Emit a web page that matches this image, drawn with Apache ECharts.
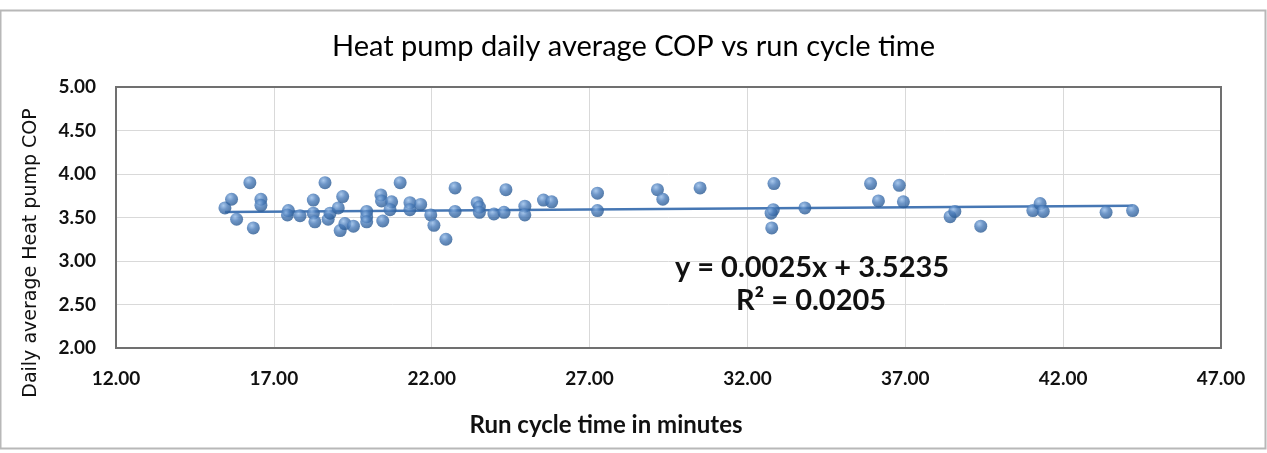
<!DOCTYPE html>
<html>
<head>
<meta charset="utf-8">
<script src="https://cdn.jsdelivr.net/npm/echarts@6/dist/echarts.min.js"></script>
<style>
  html, body { margin: 0; padding: 0; background: #fff; }
  #chart { width: 1267px; height: 453px; }
</style>
</head>
<body>
<div id="chart"></div>
<script>
// run cycle time (minutes) and daily average COP
var runTime = [
  15.45, 15.66, 15.82, 16.24, 16.35, 16.59, 16.59, 17.46, 17.43, 17.83,
  18.25, 18.25, 18.30, 18.62, 18.72, 18.78, 19.04, 19.18, 19.10, 19.25,
  19.52, 19.94, 19.94, 19.94, 20.39, 20.41, 20.45, 20.73, 20.68, 21.00,
  21.31, 21.31, 21.65, 21.97, 22.07, 22.45, 22.74, 22.74, 23.44, 23.51,
  23.51, 23.97, 24.29, 24.35, 24.95, 24.95, 25.54, 25.80, 27.25, 27.25,
  29.15, 29.32, 30.50, 32.84, 32.82, 32.75, 32.77, 33.82, 35.90, 36.15,
  36.81, 36.94, 38.42, 38.57, 39.39, 41.04, 41.27, 41.37, 43.36, 44.20
];
var dailyCop = [
  3.61, 3.71, 3.48, 3.90, 3.38, 3.71, 3.64, 3.58, 3.53, 3.52,
  3.70, 3.55, 3.45, 3.90, 3.48, 3.55, 3.61, 3.74, 3.35, 3.43,
  3.40, 3.57, 3.51, 3.45, 3.76, 3.69, 3.46, 3.68, 3.59, 3.90,
  3.67, 3.59, 3.65, 3.53, 3.41, 3.25, 3.84, 3.57, 3.67, 3.62,
  3.56, 3.54, 3.56, 3.82, 3.63, 3.53, 3.70, 3.68, 3.78, 3.58,
  3.82, 3.71, 3.84, 3.89, 3.59, 3.55, 3.38, 3.61, 3.89, 3.69,
  3.87, 3.68, 3.51, 3.57, 3.40, 3.58, 3.66, 3.57, 3.56, 3.58
];
// linear fit shown on the chart
var slope = 0.0025;
var intercept = 3.5235;
var rSquared = '0.0205';

var xTicks = [12, 17, 22, 27, 32, 37, 42, 47];
var yTicks = [2, 2.5, 3, 3.5, 4, 4.5, 5];

var points = runTime.map(function(v, i) { return [v, dailyCop[i]]; });
var xMin = Math.min.apply(null, runTime);
var xMax = Math.max.apply(null, runTime);
var trend = [[xMin, slope * xMin + intercept], [xMax, slope * xMax + intercept]];

var font = 'Lato, "Open Sans", sans-serif';
var chart = echarts.init(document.getElementById('chart'));

chart.setOption({
  animation: false,
  backgroundColor: '#fff',
  title: {
    text: 'Heat pump daily average COP vs run cycle time',
    left: 'center',
    top: 27,
    textStyle: { fontFamily: font, fontSize: 29, fontWeight: 'normal', color: '#000' }
  },
  grid: { left: 116, right: 46, top: 87, bottom: 105 },
  xAxis: {
    type: 'value',
    min: xTicks[0],
    max: xTicks[xTicks.length - 1],
    interval: 5,
    axisLine: { show: false },
    axisTick: { show: false },
    splitLine: { show: true, lineStyle: { color: '#d9d9d9', width: 1 } },
    axisLabel: {
      margin: 21,
      fontFamily: font, fontSize: 19, fontWeight: 'bold', color: '#111',
      formatter: function(v) { return v.toFixed(2); }
    }
  },
  yAxis: {
    type: 'value',
    min: yTicks[0],
    max: yTicks[yTicks.length - 1],
    interval: 0.5,
    axisLine: { show: false },
    axisTick: { show: false },
    splitLine: { show: true, lineStyle: { color: '#d9d9d9', width: 1 } },
    axisLabel: {
      margin: 20,
      fontFamily: font, fontSize: 19, fontWeight: 'bold', color: '#111',
      formatter: function(v) { return v.toFixed(2); }
    }
  },
  graphic: [
    {
      type: 'rect',
      shape: { x: 116, y: 87, width: 1105, height: 261 },
      style: { fill: 'none', stroke: '#707070', lineWidth: 2 },
      z: 50, silent: true
    },
    {
      type: 'rect',
      shape: { x: 0.5, y: 10.5, width: 1265, height: 438 },
      style: { fill: 'none', stroke: '#b8b8b8', lineWidth: 2 },
      z: 50, silent: true
    },
    {
      // y axis title is spaced out and runs below the plot bottom in the original
      type: 'text',
      x: 31, y: 253,
      rotation: Math.PI / 2,
      style: {
        text: 'Daily average Heat pump COP',
        fontFamily: '"DejaVu Sans", sans-serif', fontSize: 19, fill: '#111',
        align: 'center', verticalAlign: 'middle'
      },
      z: 60
    },
    {
      // x axis title sits left of the plot centre in the original
      type: 'text',
      x: 606, y: 425,
      style: {
        text: 'Run cycle time in minutes',
        fontFamily: font, fontSize: 24, fontWeight: 'bold', fill: '#111',
        align: 'center', verticalAlign: 'middle'
      },
      z: 60
    },
    {
      type: 'text',
      x: 812, y: 268,
      style: {
        text: 'y = ' + slope.toFixed(4) + 'x + ' + intercept.toFixed(4),
        fontFamily: font, fontSize: 29, fontWeight: 'bold', fill: '#111',
        align: 'center', verticalAlign: 'middle'
      },
      z: 60
    },
    {
      type: 'text',
      x: 811, y: 301,
      style: {
        text: 'R² = ' + rSquared,
        fontFamily: font, fontSize: 29, fontWeight: 'bold', fill: '#111',
        align: 'center', verticalAlign: 'middle'
      },
      z: 60
    }
  ],
  series: [
    {
      type: 'line',
      data: trend,
      symbol: 'none',
      lineStyle: { color: '#4677b4', width: 2.5 },
      z: 2
    },
    {
      type: 'scatter',
      data: points,
      symbolSize: 13,
      itemStyle: {
        color: {
          type: 'radial', x: 0.38, y: 0.32, r: 0.7,
          colorStops: [
            { offset: 0, color: '#94bbe8' },
            { offset: 0.45, color: '#4a7cba' },
            { offset: 1, color: '#285891' }
          ]
        }
      },
      z: 3
    }
  ]
});
</script>
</body>
</html>
